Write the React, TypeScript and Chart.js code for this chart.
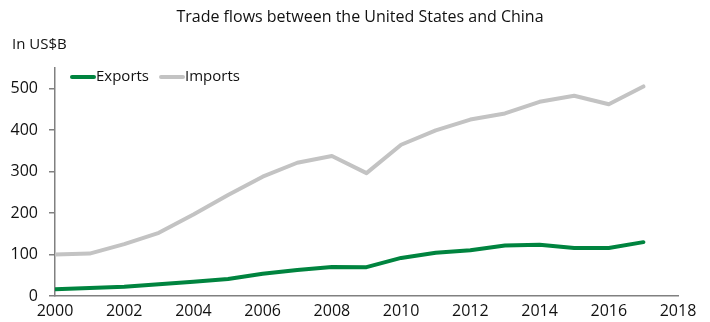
import React, { useEffect, useRef } from "react";
import { Chart, registerables } from "chart.js";

Chart.register(...registerables);

const years = [2000, 2001, 2002, 2003, 2004, 2005, 2006, 2007, 2008, 2009, 2010, 2011, 2012, 2013, 2014, 2015, 2016, 2017];
const exportsVals = [16.2, 19.2, 22.1, 28.4, 34.4, 41.2, 53.7, 62.9, 69.7, 69.5, 91.9, 104.1, 110.5, 121.7, 123.7, 115.9, 115.6, 129.9];
const importsVals = [100.0, 102.3, 125.2, 152.4, 196.7, 243.5, 287.8, 321.4, 337.8, 296.4, 364.9, 399.4, 425.6, 440.4, 468.5, 483.2, 462.4, 505.5];
const seriesNames = ["Exports", "Imports"];
const seriesColors = ["#00843F", "#C3C3C3"];
const titleText = "Trade flows between the United States and China";
const unitText = "In US$B";

const FONT = "'Open Sans', sans-serif";
const TEXT = "#111111";

const overlayPlugin = {
  id: "overlay",
  afterDraw(chart: any) {
    const ctx = chart.ctx;
    ctx.save();
    // title
    ctx.fillStyle = TEXT;
    ctx.font = `16px ${FONT}`;
    ctx.textAlign = "center";
    ctx.textBaseline = "middle";
    ctx.fillText(titleText, 360, 17);
    // unit
    ctx.font = `15px ${FONT}`;
    ctx.textAlign = "left";
    ctx.fillText(unitText, 12, 45);
    // legend
    const legendY = 77;
    let x = 72;
    seriesNames.forEach((name, i) => {
      ctx.strokeStyle = seriesColors[i];
      ctx.lineWidth = 4;
      ctx.lineCap = "round";
      ctx.beginPath();
      ctx.moveTo(x, legendY);
      ctx.lineTo(x + 22, legendY);
      ctx.stroke();
      ctx.fillStyle = TEXT;
      ctx.font = `15px ${FONT}`;
      ctx.textAlign = "left";
      ctx.textBaseline = "middle";
      ctx.fillText(name, x + 24, legendY);
      const w = ctx.measureText(name).width;
      x = x + 24 + w + 12;
    });
    ctx.restore();
  },
};

export default function App() {
  const ref = useRef<HTMLCanvasElement>(null);
  useEffect(() => {
    document.body.style.margin = "0";
    const canvas = ref.current!;
    const chart = new Chart(canvas, {
      type: "line",
      data: {
        datasets: [
          {
            label: seriesNames[0],
            data: years.map((y, i) => ({ x: y, y: exportsVals[i] })),
            borderColor: seriesColors[0],
            backgroundColor: seriesColors[0],
            borderWidth: 4,
            pointRadius: 0,
            tension: 0,
            borderJoinStyle: "round",
            borderCapStyle: "round",
          },
          {
            label: seriesNames[1],
            data: years.map((y, i) => ({ x: y, y: importsVals[i] })),
            borderColor: seriesColors[1],
            backgroundColor: seriesColors[1],
            borderWidth: 4,
            pointRadius: 0,
            tension: 0,
            borderJoinStyle: "round",
            borderCapStyle: "round",
          },
        ],
      },
      options: {
        animation: false,
        responsive: false,
        layout: { padding: { top: 68, right: 32, left: 0, bottom: 0 } },
        plugins: {
          legend: { display: false },
          title: { display: false },
          tooltip: { enabled: false },
        },
        scales: {
          x: {
            type: "linear",
            min: 2000,
            max: 2018,
            grid: { display: false, drawTicks: false },
            border: { display: true, color: "#808080", width: 1.5 },
            ticks: {
              stepSize: 2,
              padding: 6,
              color: TEXT,
              maxRotation: 0,
              font: { family: FONT, size: 16 },
              callback: (v: any) => String(v),
            },
            afterFit: (axis: any) => {
              axis.height = 26;
            },
          },
          y: {
            min: 0,
            max: 550,
            grid: { drawOnChartArea: false, drawTicks: true, tickLength: 6, color: "#808080", lineWidth: 1.5 },
            border: { display: true, color: "#808080", width: 1.5 },
            ticks: {
              stepSize: 100,
              padding: 11,
              color: TEXT,
              font: { family: FONT, size: 16 },
              callback: (v: any) => (Number(v) % 100 === 0 ? String(v) : null),
            },
            afterFit: (axis: any) => {
              axis.width = 55;
            },
          },
        },
      },
      plugins: [overlayPlugin],
    });
    return () => chart.destroy();
  }, []);
  return <canvas ref={ref} width={710} height={322} style={{ display: "block" }} />;
}
